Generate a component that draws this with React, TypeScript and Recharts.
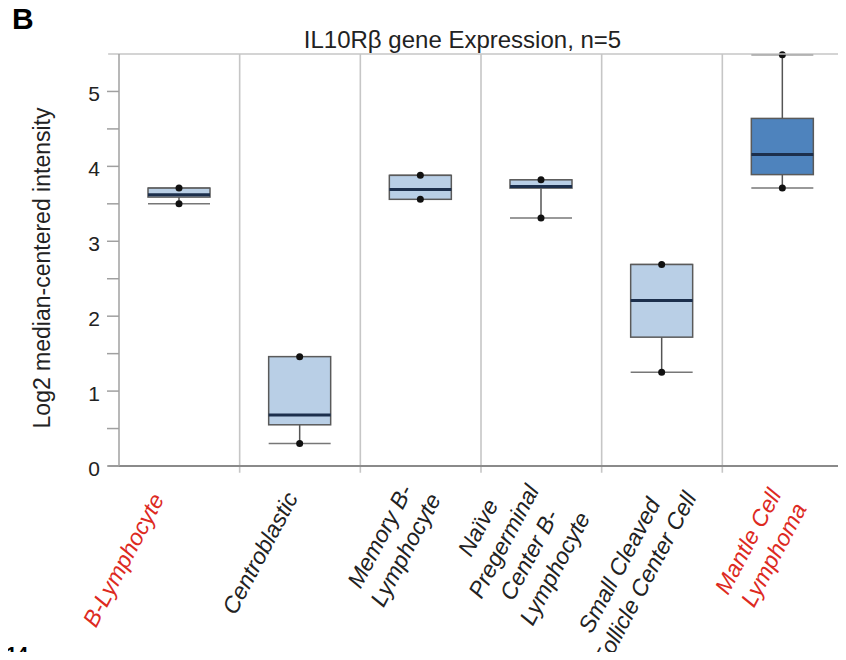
import React from 'react';
import { ComposedChart, Bar, XAxis, YAxis, ReferenceLine } from 'recharts';

// one entry per cell type
const categories = [
  'B-Lymphocyte',
  'Centroblastic',
  'Memory B-Lymphocyte',
  'Naïve Pregerminal Center B-Lymphocyte',
  'Small Cleaved Follicle Center Cell',
  'Mantle Cell Lymphoma',
];
const labelLines = [
  ['B-Lymphocyte'],
  ['Centroblastic'],
  ['Memory B-', 'Lymphocyte'],
  ['Naïve', 'Pregerminal', 'Center B-', 'Lymphocyte'],
  ['Small Cleaved', 'Follicle Center Cell'],
  ['Mantle Cell', 'Lymphoma'],
];
const mins = [3.5, 0.3, 3.56, 3.31, 1.25, 3.71];
const q1s = [3.59, 0.55, 3.56, 3.71, 1.72, 3.89];
const medians = [3.62, 0.68, 3.69, 3.73, 2.21, 4.16];
const q3s = [3.71, 1.46, 3.88, 3.82, 2.69, 4.64];
const maxs = [3.71, 1.46, 3.88, 3.82, 2.69, 5.49];
const yTicks = [0, 0.5, 1, 1.5, 2, 2.5, 3, 3.5, 4, 4.5, 5];
const separators = [1, 2, 3, 4, 5, 6];

const redLabels = ['B-Lymphocyte', 'Mantle Cell Lymphoma'];
const cancerType = 'Mantle Cell Lymphoma';

// where each rotated label block sits, relative to its tick (layout only)
const labelOffsets = [
  [-56, 94],
  [-40, 87],
  [-28, 77],
  [-25, 82],
  [-30, 106],
  [-22, 82],
];

const FONT = '"Liberation Sans", Arial, Helvetica, sans-serif';
const RED = '#dd2a1f';
const LIGHT = '#b9cfe6';
const DARK = '#4e83bd';
const GRID = '#c6c6c6';

const data = categories.map((name, i) => ({
  name,
  pos: i + 0.5,
  range: [mins[i], maxs[i]],
  min: mins[i],
  q1: q1s[i],
  median: medians[i],
  q3: q3s[i],
  max: maxs[i],
}));

const BoxShape = (props: any) => {
  const { x, y, width, height, payload } = props;
  const unit = height / (payload.max - payload.min);
  const py = (v: number) => y + (payload.max - v) * unit;
  const cx = x + width / 2;
  const fill = payload.name === cancerType ? DARK : LIGHT;
  return (
    <g>
      <line x1={cx} x2={cx} y1={py(payload.max)} y2={py(payload.q3)} stroke="#555" strokeWidth={1.5} />
      <line x1={cx} x2={cx} y1={py(payload.q1)} y2={py(payload.min)} stroke="#555" strokeWidth={1.5} />
      <line x1={x} x2={x + width} y1={py(payload.max)} y2={py(payload.max)} stroke="#777" strokeWidth={1.5} />
      <line x1={x} x2={x + width} y1={py(payload.min)} y2={py(payload.min)} stroke="#777" strokeWidth={1.5} />
      <rect
        x={x}
        y={py(payload.q3)}
        width={width}
        height={Math.max(py(payload.q1) - py(payload.q3), 1)}
        fill={fill}
        stroke="#5a5a5a"
        strokeWidth={1.5}
      />
      <line x1={x} x2={x + width} y1={py(payload.median)} y2={py(payload.median)} stroke="#1c2f4c" strokeWidth={3} />
      <circle cx={cx} cy={py(payload.max)} r={3.5} fill="#111" />
      <circle cx={cx} cy={py(payload.min)} r={3.5} fill="#111" />
    </g>
  );
};

const YTick = (props: any) => {
  const { x, y, payload } = props;
  const major = Number.isInteger(payload.value);
  return (
    <g>
      <line x1={x - 12} x2={x} y1={y} y2={y} stroke="#a0a0a0" strokeWidth={1.5} />
      {major && (
        <text x={x - 19} y={y} dy={10} textAnchor="end" fontSize={21} fill="#222" fontFamily={FONT}>
          {payload.value}
        </text>
      )}
    </g>
  );
};

const XTick = (props: any) => {
  const { x, y, payload } = props;
  const i = Math.floor(payload.value);
  const lines = labelLines[i];
  const n = lines.length;
  const color = redLabels.includes(categories[i]) ? RED : '#222';
  const [ox, oy] = labelOffsets[i];
  return (
    <g transform={`translate(${x + ox},${y + oy}) rotate(-62)`}>
      <text textAnchor="middle" fontSize={23} fontStyle="italic" fill={color} fontFamily={FONT}>
        {lines.map((l, k) => (
          <tspan key={k} x={0} y={(k - (n - 1) / 2) * 29 + 8}>
            {l}
          </tspan>
        ))}
      </text>
    </g>
  );
};

export default function App() {
  return (
    <div style={{ margin: -8, width: 846, height: 660, position: 'relative', overflow: 'hidden', background: '#fff' }}>
      <div style={{ position: 'absolute', left: 12, top: 2, fontFamily: FONT, fontWeight: 'bold', fontSize: 30 }}>B</div>
      <div
        style={{
          position: 'absolute',
          left: 0,
          width: 846,
          top: 26,
          textAlign: 'center',
          paddingLeft: 79,
          boxSizing: 'border-box',
          fontFamily: FONT,
          fontSize: 24,
          color: '#222',
        }}
      >
        IL10Rβ gene Expression, n=5
      </div>
      <div style={{ position: 'absolute', left: 6, top: 643, fontFamily: FONT, fontWeight: 'bold', fontSize: 20 }}>14</div>
      <ComposedChart
        width={846}
        height={660}
        data={data}
        margin={{ top: 54, right: 3, left: 59, bottom: 14 }}
        style={{ position: 'absolute', left: 0, top: 0 }}
      >
        <XAxis
          dataKey="pos"
          type="number"
          domain={[0, 6]}
          ticks={data.map((d) => d.pos)}
          tick={<XTick />}
          tickLine={false}
          axisLine={false}
          tickSize={0}
          tickMargin={0}
          height={180}
          interval={0}
        />
        <YAxis
          type="number"
          domain={[0, 5.5]}
          ticks={yTicks}
          tick={<YTick />}
          tickLine={false}
          tickSize={0}
          tickMargin={0}
          width={60}
          axisLine={{ stroke: '#a0a0a0', strokeWidth: 1.5 }}
          interval={0}
          label={() => (
            <text
              x={50}
              y={268}
              transform="rotate(-90 50 268)"
              textAnchor="middle"
              fontSize={23}
              fill="#222"
              fontFamily={FONT}
            >
              Log2 median-centered intensity
            </text>
          )}
        />
        {separators.map((s) => (
          <ReferenceLine
            key={s}
            segment={[{ x: s, y: -0.09 }, { x: s, y: 5.5 }]}
            stroke={GRID}
            strokeWidth={1.6}
            ifOverflow="visible"
          />
        ))}
        <ReferenceLine
          segment={[{ x: -0.09, y: 5.5 }, { x: 6, y: 5.5 }]}
          stroke={GRID}
          strokeWidth={1.6}
          ifOverflow="visible"
        />
        <ReferenceLine
          segment={[{ x: -0.09, y: 0 }, { x: 6, y: 0 }]}
          stroke="#8a8a8a"
          strokeWidth={2.2}
          ifOverflow="visible"
        />
        <Bar dataKey="range" barSize={62} shape={<BoxShape />} isAnimationActive={false} />
      </ComposedChart>
    </div>
  );
}
